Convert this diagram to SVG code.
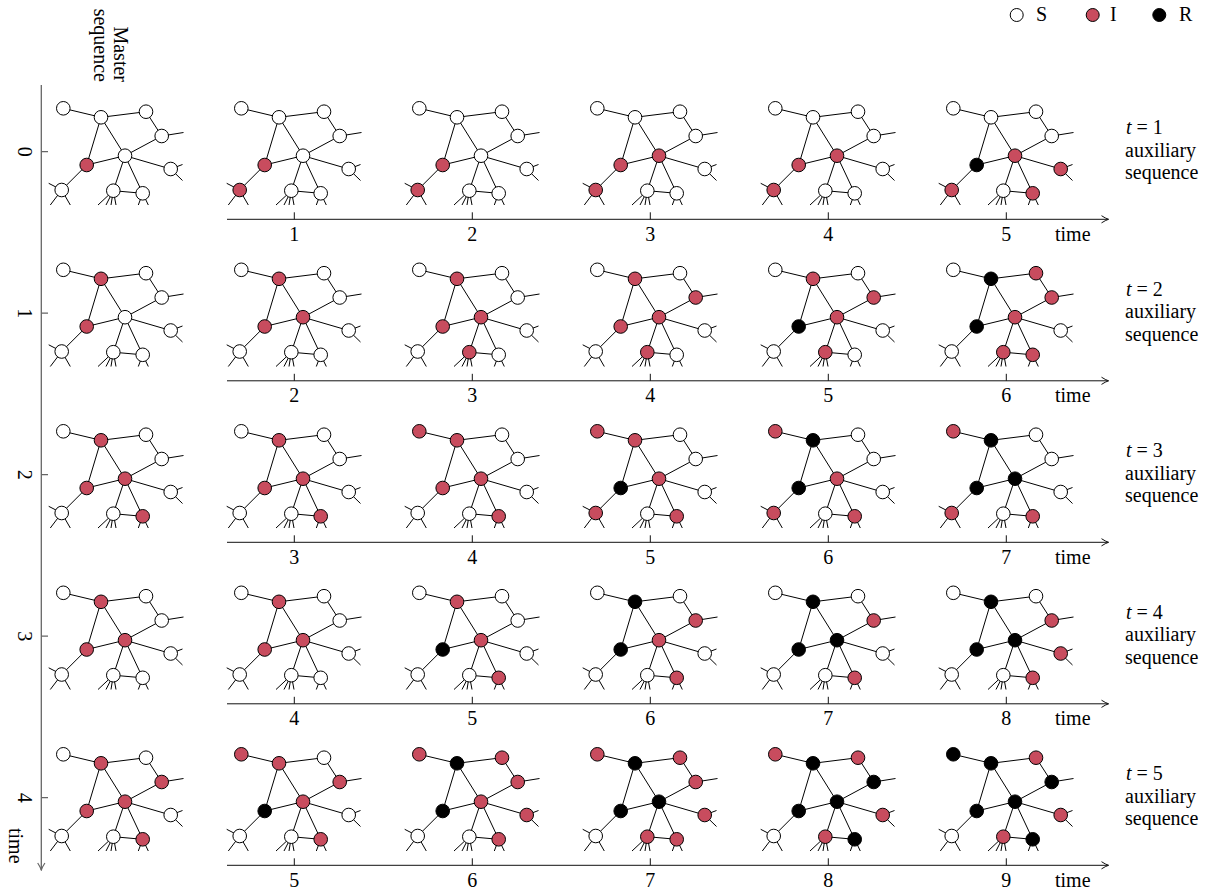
<svg xmlns="http://www.w3.org/2000/svg" width="1208" height="890" viewBox="0 0 1208 890">
<style>
text{font-family:"Liberation Serif","Times New Roman",serif;font-size:20px;fill:#000}
.ed{fill:none;stroke:#000;stroke-width:1}
circle{stroke:#000;stroke-width:1}
.s{fill:#fff}.i{fill:#c84c5e}.r{fill:#000}
.ax{stroke:#111;stroke-width:1;fill:none}
.vax{stroke:#666;stroke-width:1.3;fill:none}
</style>
<defs>
<marker id="ah" viewBox="-9 -5 10 10" refX="0" refY="0" markerWidth="10" markerHeight="10" markerUnits="userSpaceOnUse" orient="auto">
<path d="M-7,-3.6Q-3,-1 0,0Q-3,1 -7,3.6" fill="none" stroke="#111" stroke-width="1"/>
</marker>
<marker id="ahg" viewBox="-9 -5 10 10" refX="0" refY="0" markerWidth="10" markerHeight="10" markerUnits="userSpaceOnUse" orient="auto">
<path d="M-7,-3.6Q-3,-1 0,0Q-3,1 -7,3.6" fill="none" stroke="#666" stroke-width="1.2"/>
</marker>
<path id="net" class="ed" d="M63.3 108.3L101 117.3L146 111.7L161.7 136L183.5 132.5M101 117.3L86.7 165L61.7 190M101 117.3L125 155.7L161.7 136M86.7 165L125 155.7L170.7 169M125 155.7L113.3 190.7L142.7 193.3M142.7 193.3L125 155.7M61.7 190L48.7 183.3M61.7 190L50.3 205M61.7 190L70.3 205M170.7 169L182.5 164.5M170.7 169L182.5 180.5M113.3 190.7L98 205M113.3 190.7L106 205M113.3 190.7L111 205M113.3 190.7L116 205M142.7 193.3L138.3 205M142.7 193.3L148.3 205"/>
</defs>

<!-- legend -->
<g id="legend">
<circle class="s" cx="1016.7" cy="15" r="6.5"/><text x="1036" y="20.5">S</text>
<circle class="i" cx="1092.7" cy="15" r="6.5"/><text x="1110" y="20.5">I</text>
<circle class="r" cx="1159.3" cy="15" r="6.5"/><text x="1179" y="20.5">R</text>
</g>

<!-- master sequence header and vertical time axis -->
<g id="master-axis">
<text transform="translate(114,82) rotate(90)" text-anchor="end">Master</text>
<text transform="translate(94,82) rotate(90)" text-anchor="end">sequence</text>
<line class="vax" x1="41.3" y1="85" x2="41.3" y2="870" marker-end="url(#ahg)"/>
<path class="vax" d="M41.3 151.7H48M41.3 313.2H48M41.3 474.7H48M41.3 636.2H48M41.3 797.7H48"/>
<text transform="translate(17.5,151.7) rotate(90)" text-anchor="middle">0</text>
<text transform="translate(17.5,313.2) rotate(90)" text-anchor="middle">1</text>
<text transform="translate(17.5,474.7) rotate(90)" text-anchor="middle">2</text>
<text transform="translate(17.5,636.2) rotate(90)" text-anchor="middle">3</text>
<text transform="translate(17.5,797.7) rotate(90)" text-anchor="middle">4</text>
<text transform="translate(8.5,828) rotate(90)">time</text>
</g>

<!-- horizontal time axes -->
<g id="time-axes">
<g id="axis0">
<line class="ax" x1="227" y1="219.3" x2="1108.5" y2="219.3" marker-end="url(#ah)"/>
<path class="ax" d="M294.3 219.3v-7M472.3 219.3v-7M650.3 219.3v-7M828.3 219.3v-7M1006.3 219.3v-7"/>
<text x="294.3" y="240.5" text-anchor="middle">1</text><text x="472.3" y="240.5" text-anchor="middle">2</text><text x="650.3" y="240.5" text-anchor="middle">3</text><text x="828.3" y="240.5" text-anchor="middle">4</text><text x="1006.3" y="240.5" text-anchor="middle">5</text><text x="1055" y="240.5">time</text>
</g>
<g id="axis1" transform="translate(0,161.5)">
<line class="ax" x1="227" y1="219.3" x2="1108.5" y2="219.3" marker-end="url(#ah)"/>
<path class="ax" d="M294.3 219.3v-7M472.3 219.3v-7M650.3 219.3v-7M828.3 219.3v-7M1006.3 219.3v-7"/>
<text x="294.3" y="240.5" text-anchor="middle">2</text><text x="472.3" y="240.5" text-anchor="middle">3</text><text x="650.3" y="240.5" text-anchor="middle">4</text><text x="828.3" y="240.5" text-anchor="middle">5</text><text x="1006.3" y="240.5" text-anchor="middle">6</text><text x="1055" y="240.5">time</text>
</g>
<g id="axis2" transform="translate(0,323)">
<line class="ax" x1="227" y1="219.3" x2="1108.5" y2="219.3" marker-end="url(#ah)"/>
<path class="ax" d="M294.3 219.3v-7M472.3 219.3v-7M650.3 219.3v-7M828.3 219.3v-7M1006.3 219.3v-7"/>
<text x="294.3" y="240.5" text-anchor="middle">3</text><text x="472.3" y="240.5" text-anchor="middle">4</text><text x="650.3" y="240.5" text-anchor="middle">5</text><text x="828.3" y="240.5" text-anchor="middle">6</text><text x="1006.3" y="240.5" text-anchor="middle">7</text><text x="1055" y="240.5">time</text>
</g>
<g id="axis3" transform="translate(0,484.5)">
<line class="ax" x1="227" y1="219.3" x2="1108.5" y2="219.3" marker-end="url(#ah)"/>
<path class="ax" d="M294.3 219.3v-7M472.3 219.3v-7M650.3 219.3v-7M828.3 219.3v-7M1006.3 219.3v-7"/>
<text x="294.3" y="240.5" text-anchor="middle">4</text><text x="472.3" y="240.5" text-anchor="middle">5</text><text x="650.3" y="240.5" text-anchor="middle">6</text><text x="828.3" y="240.5" text-anchor="middle">7</text><text x="1006.3" y="240.5" text-anchor="middle">8</text><text x="1055" y="240.5">time</text>
</g>
<g id="axis4" transform="translate(0,646)">
<line class="ax" x1="227" y1="219.3" x2="1108.5" y2="219.3" marker-end="url(#ah)"/>
<path class="ax" d="M294.3 219.3v-7M472.3 219.3v-7M650.3 219.3v-7M828.3 219.3v-7M1006.3 219.3v-7"/>
<text x="294.3" y="240.5" text-anchor="middle">5</text><text x="472.3" y="240.5" text-anchor="middle">6</text><text x="650.3" y="240.5" text-anchor="middle">7</text><text x="828.3" y="240.5" text-anchor="middle">8</text><text x="1006.3" y="240.5" text-anchor="middle">9</text><text x="1055" y="240.5">time</text>
</g>
</g>

<!-- right labels -->
<g id="aux-labels">
<g id="aux1"><text x="1126" y="134"><tspan font-style="italic">t</tspan> = 1</text><text x="1125" y="156.5">auxiliary</text><text x="1125" y="179">sequence</text></g>
<g id="aux2" transform="translate(0,161.5)"><text x="1126" y="134"><tspan font-style="italic">t</tspan> = 2</text><text x="1125" y="156.5">auxiliary</text><text x="1125" y="179">sequence</text></g>
<g id="aux3" transform="translate(0,323)"><text x="1126" y="134"><tspan font-style="italic">t</tspan> = 3</text><text x="1125" y="156.5">auxiliary</text><text x="1125" y="179">sequence</text></g>
<g id="aux4" transform="translate(0,484.5)"><text x="1126" y="134"><tspan font-style="italic">t</tspan> = 4</text><text x="1125" y="156.5">auxiliary</text><text x="1125" y="179">sequence</text></g>
<g id="aux5" transform="translate(0,646)"><text x="1126" y="134"><tspan font-style="italic">t</tspan> = 5</text><text x="1125" y="156.5">auxiliary</text><text x="1125" y="179">sequence</text></g>
</g>

<!-- connectors (network edges) -->
<g id="connectors">
<use href="#net" transform="translate(0,0)"/><use href="#net" transform="translate(178,0)"/><use href="#net" transform="translate(356,0)"/><use href="#net" transform="translate(534,0)"/><use href="#net" transform="translate(712,0)"/><use href="#net" transform="translate(890,0)"/>
<use href="#net" transform="translate(0,161.5)"/><use href="#net" transform="translate(178,161.5)"/><use href="#net" transform="translate(356,161.5)"/><use href="#net" transform="translate(534,161.5)"/><use href="#net" transform="translate(712,161.5)"/><use href="#net" transform="translate(890,161.5)"/>
<use href="#net" transform="translate(0,323)"/><use href="#net" transform="translate(178,323)"/><use href="#net" transform="translate(356,323)"/><use href="#net" transform="translate(534,323)"/><use href="#net" transform="translate(712,323)"/><use href="#net" transform="translate(890,323)"/>
<use href="#net" transform="translate(0,484.5)"/><use href="#net" transform="translate(178,484.5)"/><use href="#net" transform="translate(356,484.5)"/><use href="#net" transform="translate(534,484.5)"/><use href="#net" transform="translate(712,484.5)"/><use href="#net" transform="translate(890,484.5)"/>
<use href="#net" transform="translate(0,646)"/><use href="#net" transform="translate(178,646)"/><use href="#net" transform="translate(356,646)"/><use href="#net" transform="translate(534,646)"/><use href="#net" transform="translate(712,646)"/><use href="#net" transform="translate(890,646)"/>
</g>

<!-- nodes: order A B C D E F G H I J -->
<g id="nodes">
<!-- row 0 -->
<g id="r0c0" transform="translate(0,0)"><circle class="s" cx="63.3" cy="108.3" r="6.8"/><circle class="s" cx="101" cy="117.3" r="6.8"/><circle class="s" cx="146" cy="111.7" r="6.8"/><circle class="s" cx="161.7" cy="136" r="6.8"/><circle class="s" cx="125" cy="155.7" r="6.8"/><circle class="i" cx="86.7" cy="165" r="6.8"/><circle class="s" cx="170.7" cy="169" r="6.8"/><circle class="s" cx="61.7" cy="190" r="6.8"/><circle class="s" cx="113.3" cy="190.7" r="6.8"/><circle class="s" cx="142.7" cy="193.3" r="6.8"/></g>
<g id="r0c1" transform="translate(178,0)"><circle class="s" cx="63.3" cy="108.3" r="6.8"/><circle class="s" cx="101" cy="117.3" r="6.8"/><circle class="s" cx="146" cy="111.7" r="6.8"/><circle class="s" cx="161.7" cy="136" r="6.8"/><circle class="s" cx="125" cy="155.7" r="6.8"/><circle class="i" cx="86.7" cy="165" r="6.8"/><circle class="s" cx="170.7" cy="169" r="6.8"/><circle class="i" cx="61.7" cy="190" r="6.8"/><circle class="s" cx="113.3" cy="190.7" r="6.8"/><circle class="s" cx="142.7" cy="193.3" r="6.8"/></g>
<g id="r0c2" transform="translate(356,0)"><circle class="s" cx="63.3" cy="108.3" r="6.8"/><circle class="s" cx="101" cy="117.3" r="6.8"/><circle class="s" cx="146" cy="111.7" r="6.8"/><circle class="s" cx="161.7" cy="136" r="6.8"/><circle class="s" cx="125" cy="155.7" r="6.8"/><circle class="i" cx="86.7" cy="165" r="6.8"/><circle class="s" cx="170.7" cy="169" r="6.8"/><circle class="i" cx="61.7" cy="190" r="6.8"/><circle class="s" cx="113.3" cy="190.7" r="6.8"/><circle class="s" cx="142.7" cy="193.3" r="6.8"/></g>
<g id="r0c3" transform="translate(534,0)"><circle class="s" cx="63.3" cy="108.3" r="6.8"/><circle class="s" cx="101" cy="117.3" r="6.8"/><circle class="s" cx="146" cy="111.7" r="6.8"/><circle class="s" cx="161.7" cy="136" r="6.8"/><circle class="i" cx="125" cy="155.7" r="6.8"/><circle class="i" cx="86.7" cy="165" r="6.8"/><circle class="s" cx="170.7" cy="169" r="6.8"/><circle class="i" cx="61.7" cy="190" r="6.8"/><circle class="s" cx="113.3" cy="190.7" r="6.8"/><circle class="s" cx="142.7" cy="193.3" r="6.8"/></g>
<g id="r0c4" transform="translate(712,0)"><circle class="s" cx="63.3" cy="108.3" r="6.8"/><circle class="s" cx="101" cy="117.3" r="6.8"/><circle class="s" cx="146" cy="111.7" r="6.8"/><circle class="s" cx="161.7" cy="136" r="6.8"/><circle class="i" cx="125" cy="155.7" r="6.8"/><circle class="i" cx="86.7" cy="165" r="6.8"/><circle class="s" cx="170.7" cy="169" r="6.8"/><circle class="i" cx="61.7" cy="190" r="6.8"/><circle class="s" cx="113.3" cy="190.7" r="6.8"/><circle class="s" cx="142.7" cy="193.3" r="6.8"/></g>
<g id="r0c5" transform="translate(890,0)"><circle class="s" cx="63.3" cy="108.3" r="6.8"/><circle class="s" cx="101" cy="117.3" r="6.8"/><circle class="s" cx="146" cy="111.7" r="6.8"/><circle class="s" cx="161.7" cy="136" r="6.8"/><circle class="i" cx="125" cy="155.7" r="6.8"/><circle class="r" cx="86.7" cy="165" r="6.8"/><circle class="i" cx="170.7" cy="169" r="6.8"/><circle class="i" cx="61.7" cy="190" r="6.8"/><circle class="s" cx="113.3" cy="190.7" r="6.8"/><circle class="i" cx="142.7" cy="193.3" r="6.8"/></g>
<!-- row 1 -->
<g id="r1c0" transform="translate(0,161.5)"><circle class="s" cx="63.3" cy="108.3" r="6.8"/><circle class="i" cx="101" cy="117.3" r="6.8"/><circle class="s" cx="146" cy="111.7" r="6.8"/><circle class="s" cx="161.7" cy="136" r="6.8"/><circle class="s" cx="125" cy="155.7" r="6.8"/><circle class="i" cx="86.7" cy="165" r="6.8"/><circle class="s" cx="170.7" cy="169" r="6.8"/><circle class="s" cx="61.7" cy="190" r="6.8"/><circle class="s" cx="113.3" cy="190.7" r="6.8"/><circle class="s" cx="142.7" cy="193.3" r="6.8"/></g>
<g id="r1c1" transform="translate(178,161.5)"><circle class="s" cx="63.3" cy="108.3" r="6.8"/><circle class="i" cx="101" cy="117.3" r="6.8"/><circle class="s" cx="146" cy="111.7" r="6.8"/><circle class="s" cx="161.7" cy="136" r="6.8"/><circle class="i" cx="125" cy="155.7" r="6.8"/><circle class="i" cx="86.7" cy="165" r="6.8"/><circle class="s" cx="170.7" cy="169" r="6.8"/><circle class="s" cx="61.7" cy="190" r="6.8"/><circle class="s" cx="113.3" cy="190.7" r="6.8"/><circle class="s" cx="142.7" cy="193.3" r="6.8"/></g>
<g id="r1c2" transform="translate(356,161.5)"><circle class="s" cx="63.3" cy="108.3" r="6.8"/><circle class="i" cx="101" cy="117.3" r="6.8"/><circle class="s" cx="146" cy="111.7" r="6.8"/><circle class="s" cx="161.7" cy="136" r="6.8"/><circle class="i" cx="125" cy="155.7" r="6.8"/><circle class="i" cx="86.7" cy="165" r="6.8"/><circle class="s" cx="170.7" cy="169" r="6.8"/><circle class="s" cx="61.7" cy="190" r="6.8"/><circle class="i" cx="113.3" cy="190.7" r="6.8"/><circle class="s" cx="142.7" cy="193.3" r="6.8"/></g>
<g id="r1c3" transform="translate(534,161.5)"><circle class="s" cx="63.3" cy="108.3" r="6.8"/><circle class="i" cx="101" cy="117.3" r="6.8"/><circle class="s" cx="146" cy="111.7" r="6.8"/><circle class="i" cx="161.7" cy="136" r="6.8"/><circle class="i" cx="125" cy="155.7" r="6.8"/><circle class="i" cx="86.7" cy="165" r="6.8"/><circle class="s" cx="170.7" cy="169" r="6.8"/><circle class="s" cx="61.7" cy="190" r="6.8"/><circle class="i" cx="113.3" cy="190.7" r="6.8"/><circle class="s" cx="142.7" cy="193.3" r="6.8"/></g>
<g id="r1c4" transform="translate(712,161.5)"><circle class="s" cx="63.3" cy="108.3" r="6.8"/><circle class="i" cx="101" cy="117.3" r="6.8"/><circle class="s" cx="146" cy="111.7" r="6.8"/><circle class="i" cx="161.7" cy="136" r="6.8"/><circle class="i" cx="125" cy="155.7" r="6.8"/><circle class="r" cx="86.7" cy="165" r="6.8"/><circle class="s" cx="170.7" cy="169" r="6.8"/><circle class="s" cx="61.7" cy="190" r="6.8"/><circle class="i" cx="113.3" cy="190.7" r="6.8"/><circle class="s" cx="142.7" cy="193.3" r="6.8"/></g>
<g id="r1c5" transform="translate(890,161.5)"><circle class="s" cx="63.3" cy="108.3" r="6.8"/><circle class="r" cx="101" cy="117.3" r="6.8"/><circle class="i" cx="146" cy="111.7" r="6.8"/><circle class="i" cx="161.7" cy="136" r="6.8"/><circle class="i" cx="125" cy="155.7" r="6.8"/><circle class="r" cx="86.7" cy="165" r="6.8"/><circle class="s" cx="170.7" cy="169" r="6.8"/><circle class="s" cx="61.7" cy="190" r="6.8"/><circle class="i" cx="113.3" cy="190.7" r="6.8"/><circle class="i" cx="142.7" cy="193.3" r="6.8"/></g>
<!-- row 2 -->
<g id="r2c0" transform="translate(0,323)"><circle class="s" cx="63.3" cy="108.3" r="6.8"/><circle class="i" cx="101" cy="117.3" r="6.8"/><circle class="s" cx="146" cy="111.7" r="6.8"/><circle class="s" cx="161.7" cy="136" r="6.8"/><circle class="i" cx="125" cy="155.7" r="6.8"/><circle class="i" cx="86.7" cy="165" r="6.8"/><circle class="s" cx="170.7" cy="169" r="6.8"/><circle class="s" cx="61.7" cy="190" r="6.8"/><circle class="s" cx="113.3" cy="190.7" r="6.8"/><circle class="i" cx="142.7" cy="193.3" r="6.8"/></g>
<g id="r2c1" transform="translate(178,323)"><circle class="s" cx="63.3" cy="108.3" r="6.8"/><circle class="i" cx="101" cy="117.3" r="6.8"/><circle class="s" cx="146" cy="111.7" r="6.8"/><circle class="s" cx="161.7" cy="136" r="6.8"/><circle class="i" cx="125" cy="155.7" r="6.8"/><circle class="i" cx="86.7" cy="165" r="6.8"/><circle class="s" cx="170.7" cy="169" r="6.8"/><circle class="s" cx="61.7" cy="190" r="6.8"/><circle class="s" cx="113.3" cy="190.7" r="6.8"/><circle class="i" cx="142.7" cy="193.3" r="6.8"/></g>
<g id="r2c2" transform="translate(356,323)"><circle class="i" cx="63.3" cy="108.3" r="6.8"/><circle class="i" cx="101" cy="117.3" r="6.8"/><circle class="s" cx="146" cy="111.7" r="6.8"/><circle class="s" cx="161.7" cy="136" r="6.8"/><circle class="i" cx="125" cy="155.7" r="6.8"/><circle class="i" cx="86.7" cy="165" r="6.8"/><circle class="s" cx="170.7" cy="169" r="6.8"/><circle class="s" cx="61.7" cy="190" r="6.8"/><circle class="s" cx="113.3" cy="190.7" r="6.8"/><circle class="i" cx="142.7" cy="193.3" r="6.8"/></g>
<g id="r2c3" transform="translate(534,323)"><circle class="i" cx="63.3" cy="108.3" r="6.8"/><circle class="i" cx="101" cy="117.3" r="6.8"/><circle class="s" cx="146" cy="111.7" r="6.8"/><circle class="s" cx="161.7" cy="136" r="6.8"/><circle class="i" cx="125" cy="155.7" r="6.8"/><circle class="r" cx="86.7" cy="165" r="6.8"/><circle class="s" cx="170.7" cy="169" r="6.8"/><circle class="i" cx="61.7" cy="190" r="6.8"/><circle class="s" cx="113.3" cy="190.7" r="6.8"/><circle class="i" cx="142.7" cy="193.3" r="6.8"/></g>
<g id="r2c4" transform="translate(712,323)"><circle class="i" cx="63.3" cy="108.3" r="6.8"/><circle class="r" cx="101" cy="117.3" r="6.8"/><circle class="s" cx="146" cy="111.7" r="6.8"/><circle class="s" cx="161.7" cy="136" r="6.8"/><circle class="i" cx="125" cy="155.7" r="6.8"/><circle class="r" cx="86.7" cy="165" r="6.8"/><circle class="s" cx="170.7" cy="169" r="6.8"/><circle class="i" cx="61.7" cy="190" r="6.8"/><circle class="s" cx="113.3" cy="190.7" r="6.8"/><circle class="i" cx="142.7" cy="193.3" r="6.8"/></g>
<g id="r2c5" transform="translate(890,323)"><circle class="i" cx="63.3" cy="108.3" r="6.8"/><circle class="r" cx="101" cy="117.3" r="6.8"/><circle class="s" cx="146" cy="111.7" r="6.8"/><circle class="s" cx="161.7" cy="136" r="6.8"/><circle class="r" cx="125" cy="155.7" r="6.8"/><circle class="r" cx="86.7" cy="165" r="6.8"/><circle class="s" cx="170.7" cy="169" r="6.8"/><circle class="i" cx="61.7" cy="190" r="6.8"/><circle class="s" cx="113.3" cy="190.7" r="6.8"/><circle class="i" cx="142.7" cy="193.3" r="6.8"/></g>
<!-- row 3 -->
<g id="r3c0" transform="translate(0,484.5)"><circle class="s" cx="63.3" cy="108.3" r="6.8"/><circle class="i" cx="101" cy="117.3" r="6.8"/><circle class="s" cx="146" cy="111.7" r="6.8"/><circle class="s" cx="161.7" cy="136" r="6.8"/><circle class="i" cx="125" cy="155.7" r="6.8"/><circle class="i" cx="86.7" cy="165" r="6.8"/><circle class="s" cx="170.7" cy="169" r="6.8"/><circle class="s" cx="61.7" cy="190" r="6.8"/><circle class="s" cx="113.3" cy="190.7" r="6.8"/><circle class="s" cx="142.7" cy="193.3" r="6.8"/></g>
<g id="r3c1" transform="translate(178,484.5)"><circle class="s" cx="63.3" cy="108.3" r="6.8"/><circle class="i" cx="101" cy="117.3" r="6.8"/><circle class="s" cx="146" cy="111.7" r="6.8"/><circle class="s" cx="161.7" cy="136" r="6.8"/><circle class="i" cx="125" cy="155.7" r="6.8"/><circle class="i" cx="86.7" cy="165" r="6.8"/><circle class="s" cx="170.7" cy="169" r="6.8"/><circle class="s" cx="61.7" cy="190" r="6.8"/><circle class="s" cx="113.3" cy="190.7" r="6.8"/><circle class="s" cx="142.7" cy="193.3" r="6.8"/></g>
<g id="r3c2" transform="translate(356,484.5)"><circle class="s" cx="63.3" cy="108.3" r="6.8"/><circle class="i" cx="101" cy="117.3" r="6.8"/><circle class="s" cx="146" cy="111.7" r="6.8"/><circle class="s" cx="161.7" cy="136" r="6.8"/><circle class="i" cx="125" cy="155.7" r="6.8"/><circle class="r" cx="86.7" cy="165" r="6.8"/><circle class="s" cx="170.7" cy="169" r="6.8"/><circle class="s" cx="61.7" cy="190" r="6.8"/><circle class="s" cx="113.3" cy="190.7" r="6.8"/><circle class="i" cx="142.7" cy="193.3" r="6.8"/></g>
<g id="r3c3" transform="translate(534,484.5)"><circle class="s" cx="63.3" cy="108.3" r="6.8"/><circle class="r" cx="101" cy="117.3" r="6.8"/><circle class="s" cx="146" cy="111.7" r="6.8"/><circle class="i" cx="161.7" cy="136" r="6.8"/><circle class="i" cx="125" cy="155.7" r="6.8"/><circle class="r" cx="86.7" cy="165" r="6.8"/><circle class="s" cx="170.7" cy="169" r="6.8"/><circle class="s" cx="61.7" cy="190" r="6.8"/><circle class="s" cx="113.3" cy="190.7" r="6.8"/><circle class="i" cx="142.7" cy="193.3" r="6.8"/></g>
<g id="r3c4" transform="translate(712,484.5)"><circle class="s" cx="63.3" cy="108.3" r="6.8"/><circle class="r" cx="101" cy="117.3" r="6.8"/><circle class="s" cx="146" cy="111.7" r="6.8"/><circle class="i" cx="161.7" cy="136" r="6.8"/><circle class="r" cx="125" cy="155.7" r="6.8"/><circle class="r" cx="86.7" cy="165" r="6.8"/><circle class="s" cx="170.7" cy="169" r="6.8"/><circle class="s" cx="61.7" cy="190" r="6.8"/><circle class="s" cx="113.3" cy="190.7" r="6.8"/><circle class="i" cx="142.7" cy="193.3" r="6.8"/></g>
<g id="r3c5" transform="translate(890,484.5)"><circle class="s" cx="63.3" cy="108.3" r="6.8"/><circle class="r" cx="101" cy="117.3" r="6.8"/><circle class="s" cx="146" cy="111.7" r="6.8"/><circle class="i" cx="161.7" cy="136" r="6.8"/><circle class="r" cx="125" cy="155.7" r="6.8"/><circle class="r" cx="86.7" cy="165" r="6.8"/><circle class="i" cx="170.7" cy="169" r="6.8"/><circle class="s" cx="61.7" cy="190" r="6.8"/><circle class="s" cx="113.3" cy="190.7" r="6.8"/><circle class="i" cx="142.7" cy="193.3" r="6.8"/></g>
<!-- row 4 -->
<g id="r4c0" transform="translate(0,646)"><circle class="s" cx="63.3" cy="108.3" r="6.8"/><circle class="i" cx="101" cy="117.3" r="6.8"/><circle class="s" cx="146" cy="111.7" r="6.8"/><circle class="i" cx="161.7" cy="136" r="6.8"/><circle class="i" cx="125" cy="155.7" r="6.8"/><circle class="i" cx="86.7" cy="165" r="6.8"/><circle class="s" cx="170.7" cy="169" r="6.8"/><circle class="s" cx="61.7" cy="190" r="6.8"/><circle class="s" cx="113.3" cy="190.7" r="6.8"/><circle class="i" cx="142.7" cy="193.3" r="6.8"/></g>
<g id="r4c1" transform="translate(178,646)"><circle class="i" cx="63.3" cy="108.3" r="6.8"/><circle class="i" cx="101" cy="117.3" r="6.8"/><circle class="s" cx="146" cy="111.7" r="6.8"/><circle class="i" cx="161.7" cy="136" r="6.8"/><circle class="i" cx="125" cy="155.7" r="6.8"/><circle class="r" cx="86.7" cy="165" r="6.8"/><circle class="s" cx="170.7" cy="169" r="6.8"/><circle class="s" cx="61.7" cy="190" r="6.8"/><circle class="s" cx="113.3" cy="190.7" r="6.8"/><circle class="i" cx="142.7" cy="193.3" r="6.8"/></g>
<g id="r4c2" transform="translate(356,646)"><circle class="i" cx="63.3" cy="108.3" r="6.8"/><circle class="r" cx="101" cy="117.3" r="6.8"/><circle class="i" cx="146" cy="111.7" r="6.8"/><circle class="i" cx="161.7" cy="136" r="6.8"/><circle class="i" cx="125" cy="155.7" r="6.8"/><circle class="r" cx="86.7" cy="165" r="6.8"/><circle class="i" cx="170.7" cy="169" r="6.8"/><circle class="s" cx="61.7" cy="190" r="6.8"/><circle class="s" cx="113.3" cy="190.7" r="6.8"/><circle class="i" cx="142.7" cy="193.3" r="6.8"/></g>
<g id="r4c3" transform="translate(534,646)"><circle class="i" cx="63.3" cy="108.3" r="6.8"/><circle class="r" cx="101" cy="117.3" r="6.8"/><circle class="i" cx="146" cy="111.7" r="6.8"/><circle class="i" cx="161.7" cy="136" r="6.8"/><circle class="r" cx="125" cy="155.7" r="6.8"/><circle class="r" cx="86.7" cy="165" r="6.8"/><circle class="i" cx="170.7" cy="169" r="6.8"/><circle class="s" cx="61.7" cy="190" r="6.8"/><circle class="i" cx="113.3" cy="190.7" r="6.8"/><circle class="i" cx="142.7" cy="193.3" r="6.8"/></g>
<g id="r4c4" transform="translate(712,646)"><circle class="i" cx="63.3" cy="108.3" r="6.8"/><circle class="r" cx="101" cy="117.3" r="6.8"/><circle class="i" cx="146" cy="111.7" r="6.8"/><circle class="r" cx="161.7" cy="136" r="6.8"/><circle class="r" cx="125" cy="155.7" r="6.8"/><circle class="r" cx="86.7" cy="165" r="6.8"/><circle class="i" cx="170.7" cy="169" r="6.8"/><circle class="s" cx="61.7" cy="190" r="6.8"/><circle class="i" cx="113.3" cy="190.7" r="6.8"/><circle class="r" cx="142.7" cy="193.3" r="6.8"/></g>
<g id="r4c5" transform="translate(890,646)"><circle class="r" cx="63.3" cy="108.3" r="6.8"/><circle class="r" cx="101" cy="117.3" r="6.8"/><circle class="i" cx="146" cy="111.7" r="6.8"/><circle class="r" cx="161.7" cy="136" r="6.8"/><circle class="r" cx="125" cy="155.7" r="6.8"/><circle class="r" cx="86.7" cy="165" r="6.8"/><circle class="i" cx="170.7" cy="169" r="6.8"/><circle class="s" cx="61.7" cy="190" r="6.8"/><circle class="i" cx="113.3" cy="190.7" r="6.8"/><circle class="r" cx="142.7" cy="193.3" r="6.8"/></g>
</g>
</svg>
